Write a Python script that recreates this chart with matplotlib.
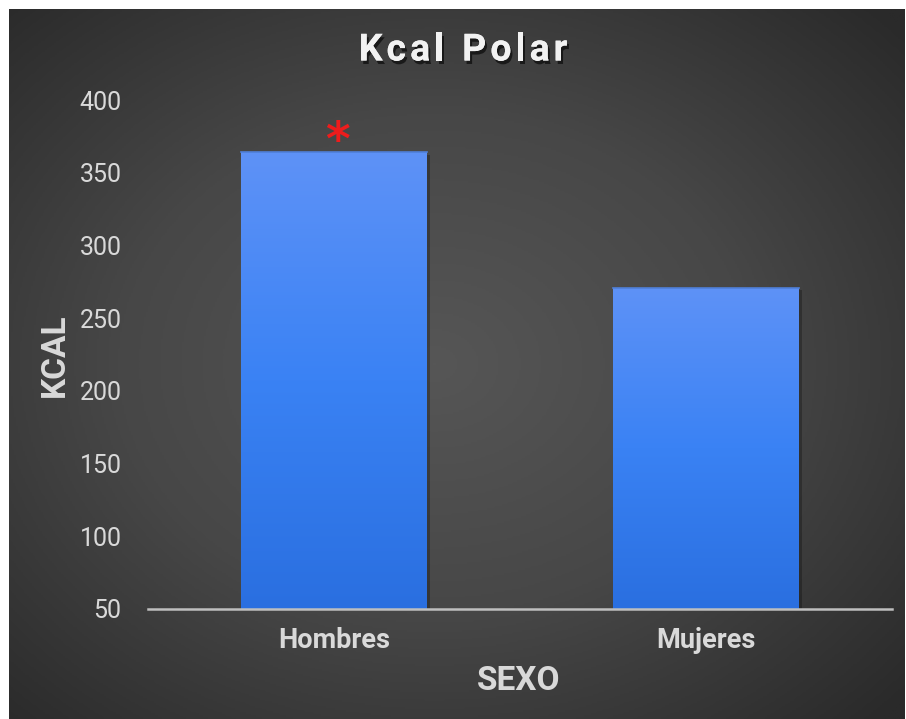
import numpy as np
import matplotlib
matplotlib.use("Agg")
import matplotlib.pyplot as plt
import matplotlib.patheffects as pe
from matplotlib.colors import LinearSegmentedColormap

categories = ["Hombres", "Mujeres"]
values = [364, 271]
yticks = [50, 100, 150, 200, 250, 300, 350, 400]
title = "Kcal Polar"
xlabel = "SEXO"
ylabel = "KCAL"

W, H = 906, 719
fig = plt.figure(figsize=(W / 100, H / 100), dpi=100)
fig.patch.set_facecolor("white")

# background with radial gradient
bg = fig.add_axes([9 / W, 0, (904 - 9) / W, (H - 9) / H], zorder=-10)
yy, xx = np.mgrid[-1:1:400j, -1:1:500j]
r = np.sqrt(((xx + 0.05) / 1.0) ** 2 + (yy / 1.0) ** 2) / np.sqrt(2)
bgcmap = LinearSegmentedColormap.from_list("bg", ["#565656", "#474747", "#2a2a2a"])
bg.imshow(r, cmap=bgcmap, aspect="auto", extent=[0, 1, 0, 1], vmin=0, vmax=1)
bg.set_axis_off()

# main axes
x0, x1 = 148, 892
ytop_px, ybot_px = 100, 609
ax = fig.add_axes([x0 / W, (H - ybot_px) / H, (x1 - x0) / W, (ybot_px - ytop_px) / H])
ax.set_facecolor("none")

xs = np.arange(len(categories))
bars = ax.bar(xs, values, width=0.5, bottom=0, color="none", zorder=3)
bar_cmap = LinearSegmentedColormap.from_list("bar", ["#2a6fe0", "#3a82f4", "#5e92f7"])
grad = np.linspace(0, 1, 256).reshape(-1, 1)
for b in bars:
    bx, bw, bh = b.get_x(), b.get_width(), b.get_height()
    sh = plt.Rectangle((bx + 0.008, 50), bw, bh - 50 - 1.5, color="black", alpha=0.25,
                       zorder=2, linewidth=0)
    ax.add_patch(sh)
    im = ax.imshow(grad, cmap=bar_cmap, aspect="auto", origin="lower",
                   extent=[bx, bx + bw, 50, bh], zorder=3)
    rect = plt.Rectangle((bx, 0), bw, bh, facecolor="none", edgecolor="none")
    ax.add_patch(rect)
    im.set_clip_path(rect)
    ax.plot([bx, bx + bw], [bh, bh], color="#4f7fd8", lw=1.2, zorder=4)

ax.set_xlim(-0.5, len(categories) - 0.5)
ax.set_ylim(50, 400)

for s in ["top", "right", "left"]:
    ax.spines[s].set_visible(False)
ax.spines["bottom"].set_color("#bfbfbf")
ax.spines["bottom"].set_linewidth(1.8)
ax.spines["bottom"].set_zorder(5)

ax.set_yticks(yticks)
ax.set_yticklabels([str(t) for t in yticks])
ax.set_xticks(xs)
ax.set_xticklabels(categories)
ax.tick_params(axis="y", length=0, pad=19, labelsize=18, labelcolor="#d9d9d9")
ax.tick_params(axis="x", length=0, pad=13, labelsize=19.5, labelcolor="#d9d9d9")
for lab in ax.get_yticklabels():
    lab.set_fontfamily("Roboto")
for lab in ax.get_xticklabels():
    lab.set_fontfamily("Roboto")
    lab.set_fontweight("bold")

fig.text(519 / W, 1 - 681 / H, xlabel, fontsize=24, fontweight="bold", color="#d9d9d9",
         family="Roboto", ha="center", va="center")
fig.text(55 / W, 1 - 355 / H, ylabel, fontsize=24, fontweight="bold", color="#d9d9d9",
         family="Roboto", ha="center", va="center", rotation=90)

# significance asterisk
ax.text(xs[0] + 0.01, values[0] - 9, "*", color="#ee1c1c", fontsize=34,
        fontweight="bold", ha="center", va="bottom", zorder=6, family="DejaVu Sans")

# title with letter spacing
fig.canvas.draw()
renderer = fig.canvas.get_renderer()
spacing = 4.0
fs = 27
shadow = [pe.withSimplePatchShadow(offset=(1.5, -2.5), shadow_rgbFace="black", alpha=0.6),
          pe.Normal()]
chars = []
total = 0.0
for ch in title:
    t = fig.text(0, 0, ch if ch != " " else "a", fontsize=fs, fontweight="bold",
                 family="Roboto")
    w = t.get_window_extent(renderer).width
    t.remove()
    if ch == " ":
        w *= 0.5
    chars.append((ch, w))
    total += w
total += spacing * (len(title) - 1)
cx = 463
xpos = cx - total / 2
for ch, w in chars:
    if ch != " ":
        fig.text(xpos / W, 1 - 50 / H, ch, ha="left", va="center", fontsize=fs,
                 fontweight="bold", color="#f2f2f2", family="Roboto",
                 path_effects=shadow)
    xpos += w + spacing

fig.savefig("out.png", dpi=100, facecolor=fig.get_facecolor())
